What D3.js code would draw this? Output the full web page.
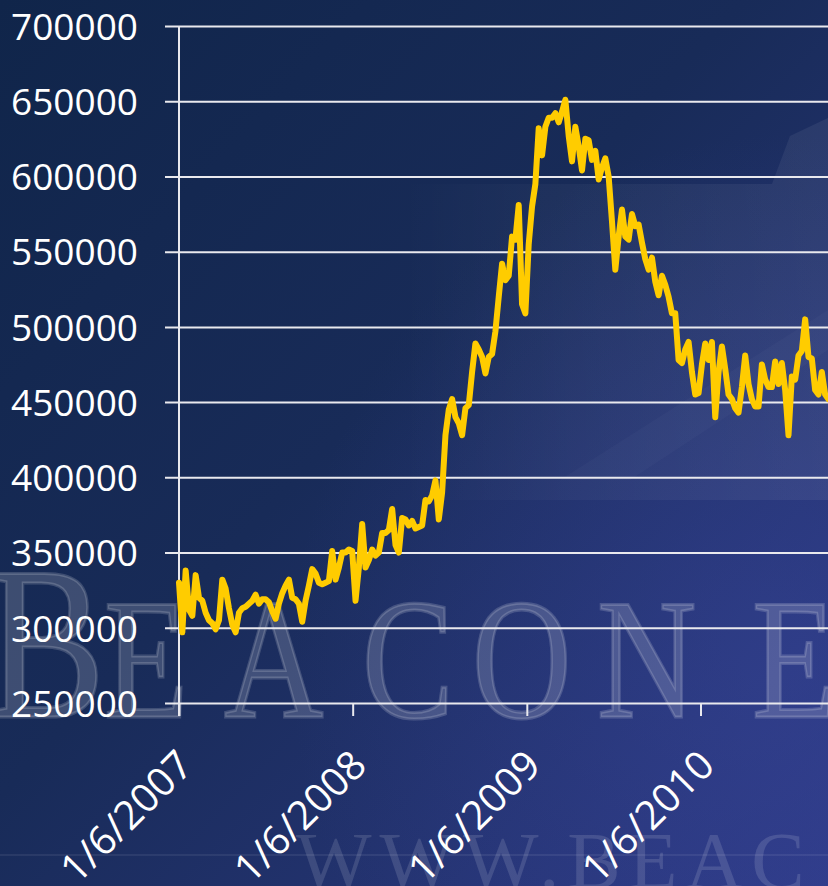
<!DOCTYPE html>
<html>
<head>
<meta charset="utf-8">
<script src="https://cdn.jsdelivr.net/npm/d3@7"></script>
<style>
  html, body { margin: 0; padding: 0; background: #182b57; }
  svg { display: block; }
</style>
</head>
<body>
<svg id="chart" width="828" height="886"></svg>
<script>
// Weekly series, first week ending 1/6/2007
const startDate = "2007-01-06";
const weeklyValues = [
  330000, 297000, 338000, 312000, 308000, 335000, 320000, 318000, 310000, 305000,
  303000, 299000, 305000, 332000, 326000, 313000, 302000, 297000, 310000, 313000,
  314000, 316000, 318000, 322000, 316000, 319000, 319000, 317000, 311000, 306000,
  316000, 323000, 328000, 332000, 320000, 319000, 316000, 304000, 318000, 328000,
  339000, 336000, 330000, 329000, 330000, 331000, 351000, 332000, 340000, 350000,
  350000, 352000, 351000, 318000, 340000, 369000, 340000, 345000, 352000, 348000,
  350000, 363000, 363000, 365000, 379000, 355000, 350000, 373000, 372000, 368000,
  371000, 366000, 367000, 368000, 385000, 384000, 388000, 398000, 372000, 390000,
  428000, 445000, 452000, 440000, 436000, 428000, 446000, 448000, 470000, 489000,
  485000, 480000, 469000, 480000, 482000, 497000, 520000, 542000, 531000, 534000,
  560000, 558000, 581000, 515000, 509000, 555000, 580000, 595000, 632000, 614000,
  633000, 639000, 639000, 642000, 636000, 643000, 651000, 627000, 610000, 633000,
  620000, 604000, 625000, 624000, 611000, 617000, 598000, 606000, 612000, 600000,
  570000, 538000, 560000, 578000, 560000, 558000, 575000, 567000, 568000, 556000,
  545000, 538000, 546000, 530000, 521000, 534000, 528000, 520000, 509000, 509000,
  478000, 476000, 485000, 490000, 470000, 455000, 456000, 475000, 489000, 478000,
  490000, 440000, 470000, 487000, 472000, 455000, 452000, 446000, 443000, 460000,
  481000, 462000, 452000, 447000, 447000, 475000, 465000, 460000, 460000, 477000,
  462000, 476000, 458000, 428000, 467000, 465000, 481000, 484000, 505000, 480000,
  479000, 458000, 455000, 470000, 455000, 452000
];
const yTickValues = [250000, 300000, 350000, 400000, 450000, 500000, 550000, 600000, 650000, 700000];
const xTickLabels = ["1/6/2007", "1/6/2008", "1/6/2009", "1/6/2010"];
const axisEndDate = "2010-10-01";

const W = 828, H = 886;
const svg = d3.select("#chart");
const defs = svg.append("defs");

// ---- backdrop ----
const bg = defs.append("linearGradient").attr("id", "bg")
  .attr("x1", 0).attr("y1", 0).attr("x2", 1).attr("y2", 1);
bg.append("stop").attr("offset", 0).attr("stop-color", "#10254a");
bg.append("stop").attr("offset", 0.45).attr("stop-color", "#182b58");
bg.append("stop").attr("offset", 1).attr("stop-color", "#2e3a86");
svg.append("rect").attr("width", W).attr("height", H).attr("fill", "url(#bg)");

const glow = defs.append("radialGradient").attr("id", "glow")
  .attr("cx", 0.95).attr("cy", 0.75).attr("r", 0.6);
glow.append("stop").attr("offset", 0).attr("stop-color", "#3a48a0").attr("stop-opacity", 0.4);
glow.append("stop").attr("offset", 1).attr("stop-color", "#3a48a0").attr("stop-opacity", 0);
svg.append("rect").attr("width", W).attr("height", H).attr("fill", "url(#glow)");

// faint rising arrow shape in the upper right, fading out toward the left
const fade = defs.append("linearGradient").attr("id", "fade")
  .attr("x1", 1).attr("y1", 0).attr("x2", 0).attr("y2", 0);
fade.append("stop").attr("offset", 0).attr("stop-color", "#ffffff").attr("stop-opacity", 0.065);
fade.append("stop").attr("offset", 0.6).attr("stop-color", "#ffffff").attr("stop-opacity", 0.035);
fade.append("stop").attr("offset", 1).attr("stop-color", "#ffffff").attr("stop-opacity", 0);
svg.append("path")
  .attr("d", "M400,184 L772,184 L790,136 L828,118 L828,500 L400,500 Z")
  .attr("fill", "url(#fade)");
svg.append("path")
  .attr("d", "M560,480 L828,310 L828,350 L630,480 Z")
  .attr("fill", "#ffffff").attr("opacity", 0.025);

// watermark lettering
const wm = svg.append("g").attr("fill", "#ffffff").attr("fill-opacity", 0.17)
  .attr("stroke", "#ffffff").attr("stroke-opacity", 0.17).attr("stroke-width", 3)
  .attr("font-family", "'Liberation Serif', 'DejaVu Serif', serif");
wm.append("text").attr("transform", "translate(-14,717) scale(0.82,1)")
  .attr("font-size", 218).text("B");
const smallCaps = [["E", 104], ["A", 224], ["C", 362], ["O", 472], ["N", 597], ["E", 752]];
smallCaps.forEach(([ch, x]) => {
  wm.append("text").attr("transform", `translate(${x},717) scale(0.8,1)`)
    .attr("font-size", 172).text(ch);
});
svg.append("rect").attr("x", 0).attr("y", 854).attr("width", W).attr("height", 2)
  .attr("fill", "#ffffff").attr("opacity", 0.07);
svg.append("text").attr("x", 296).attr("y", 888)
  .attr("font-family", "'Liberation Serif', 'DejaVu Serif', serif")
  .attr("font-size", 80).attr("letter-spacing", 8)
  .attr("fill", "#ffffff").attr("fill-opacity", 0.13).text("WWW.BEAC");

// ---- scales ----
const parseDay = d3.utcParse("%Y-%m-%d");
const parseLabel = d3.utcParse("%m/%d/%Y");
const start = parseDay(startDate);
const data = weeklyValues.map((v, i) => ({ date: d3.utcDay.offset(start, 7 * i), value: v }));

const plotLeft = 179, plotTop = 26, plotBottom = 703;
const x = d3.scaleUtc().domain([start, parseDay(axisEndDate)]).range([plotLeft, W]);
const y = d3.scaleLinear().domain([250000, 700000]).range([plotBottom, plotTop]);

// ---- y axis with gridlines ----
const yAxis = d3.axisLeft(y).tickValues(yTickValues).tickSize(-(W - 165)).tickPadding(0)
  .tickFormat(d3.format("d"));
const gy = svg.append("g").attr("transform", "translate(165,0)").call(yAxis);
gy.select(".domain").remove();
gy.selectAll(".tick line").attr("stroke", "#e9e9ee").attr("stroke-width", 2);
gy.selectAll(".tick text")
  .attr("x", -27).attr("dy", "0.36em")
  .attr("fill", "#ffffff")
  .attr("font-family", "'Open Sans', 'Noto Sans', sans-serif")
  .attr("font-size", 37);

// ---- x axis ----
const xTicks = xTickLabels.map(s => parseLabel(s));
const xAxis = d3.axisBottom(x).tickValues(xTicks).tickSize(13).tickSizeOuter(0)
  .tickFormat((d, i) => xTickLabels[i]);
const gx = svg.append("g").attr("transform", `translate(0,${plotBottom})`).call(xAxis);
gx.select(".domain").remove();
gx.selectAll(".tick line").attr("stroke", "#e9e9ee").attr("stroke-width", 2);
gx.selectAll(".tick text")
  .attr("fill", "#ffffff")
  .attr("font-family", "'Open Sans', 'Noto Sans', sans-serif")
  .attr("font-size", 40)
  .attr("text-anchor", "end")
  .attr("dy", null).attr("y", null)
  .attr("transform", "translate(8,57) rotate(-45)")
  .attr("dominant-baseline", "middle");

// vertical value axis line
svg.append("line")
  .attr("x1", plotLeft).attr("x2", plotLeft)
  .attr("y1", plotTop).attr("y2", plotBottom + 13)
  .attr("stroke", "#e9e9ee").attr("stroke-width", 2);

// ---- series line ----
const line = d3.line().x(d => x(d.date)).y(d => y(d.value));
svg.append("path").datum(data)
  .attr("d", line)
  .attr("fill", "none")
  .attr("stroke", "#ffcc00")
  .attr("stroke-width", 6)
  .attr("stroke-linejoin", "round")
  .attr("stroke-linecap", "round");
</script>
</body>
</html>
